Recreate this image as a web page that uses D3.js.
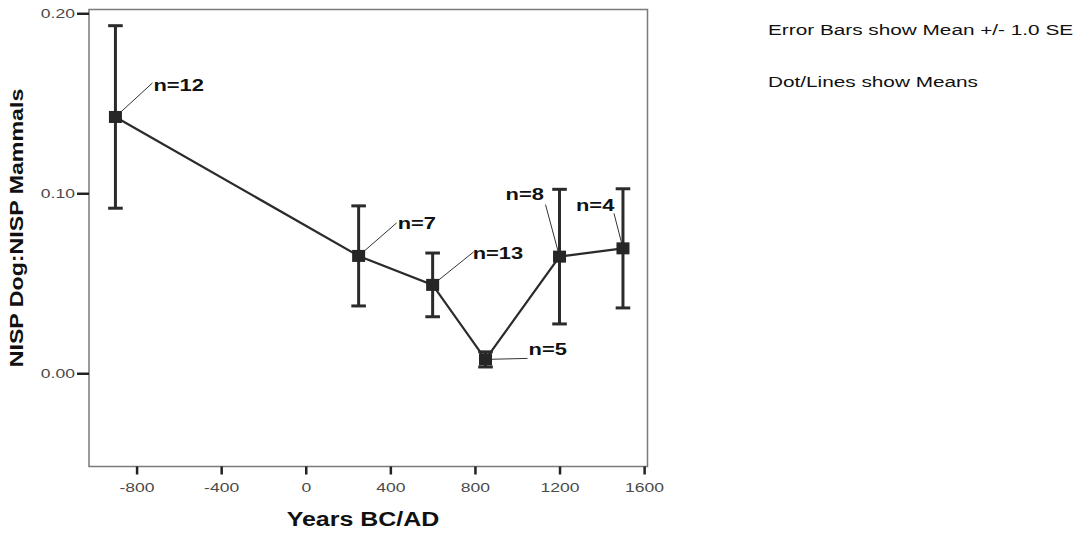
<!DOCTYPE html>
<html>
<head>
<meta charset="utf-8">
<script src="https://cdn.jsdelivr.net/npm/d3@7"></script>
<style>
  body { margin: 0; background: #fff; }
  svg { display: block; }
  text { font-family: "Liberation Sans", Arial, sans-serif; }
</style>
</head>
<body>
<svg id="chart"></svg>
<script>
// chart values
const years = [-900, 250, 600, 850, 1200, 1500];
const means = [0.1424, 0.0652, 0.0491, 0.0077, 0.0648, 0.0694];
const stdErr = [0.0507, 0.0278, 0.0177, 0.0042, 0.0374, 0.0331];
const counts = [12, 7, 13, 5, 8, 4];
const xTicks = [-800, -400, 0, 400, 800, 1200, 1600];
const yTicks = [0, 0.1, 0.2];
const legendLines = ["Error Bars show Mean +/- 1.0 SE", "Dot/Lines show Means"];
const xTitle = "Years BC/AD";
const yTitle = "NISP Dog:NISP Mammals";

const WIDTH = 1089;
const HEIGHT = 537;
const SX = 1.3; // the original picture is stretched sideways

// where each "n=" label sits, relative to its point (text start, text middle, leader end)
const labelLayout = [
  { tx: 38, ty: -32, lx: 37, ly: -34 },
  { tx: 39, ty: -33, lx: 38, ly: -33 },
  { tx: 40, ty: -32, lx: 41, ly: -33 },
  { tx: 43, ty: -10, lx: 42, ly: -1 },
  { tx: -54, ty: -62, lx: -14, ly: -52 },
  { tx: -47, ty: -43, lx: -9, ly: -35 },
];

const svg = d3.select("#chart").attr("width", WIDTH).attr("height", HEIGHT);

const x = d3.scaleLinear().domain([-1025, 1616]).range([89, 647.5]);
const y = d3.scaleLinear().domain([-0.0518, 0.2021]).range([466.5, 9.5]);

const data = years.map((d, i) => ({ year: d, mean: means[i], se: stdErr[i], n: counts[i] }));

// frame
svg.append("rect")
  .attr("x", x.range()[0])
  .attr("y", y.range()[1])
  .attr("width", x.range()[1] - x.range()[0])
  .attr("height", y.range()[0] - y.range()[1])
  .attr("fill", "none")
  .attr("stroke", "#7a7a7a")
  .attr("stroke-width", 1.5);

// y axis
const yAxis = svg.append("g")
  .attr("transform", `translate(${x.range()[0]},0)`)
  .call(d3.axisLeft(y).tickValues(yTicks).tickFormat(d3.format(".2f")).tickSize(12));
yAxis.select(".domain").remove();
yAxis.selectAll("line").attr("stroke", "#222").attr("stroke-width", 2.5);
yAxis.selectAll("text")
  .attr("x", null).attr("dy", null)
  .attr("transform", `translate(-14,4.7) scale(${SX},1)`)
  .attr("fill", "#4a4a4a")
  .style("font-size", "13.5px");

// x axis
const xAxis = svg.append("g")
  .attr("transform", `translate(0,${y.range()[0]})`)
  .call(d3.axisBottom(x).tickValues(xTicks).tickFormat((d) => String(d)).tickSize(8));
xAxis.select(".domain").remove();
xAxis.selectAll("line").attr("stroke", "#222").attr("stroke-width", 2.5);
xAxis.selectAll("text")
  .attr("y", null).attr("dy", null)
  .attr("transform", `translate(0,25) scale(${SX},1)`)
  .attr("fill", "#4a4a4a")
  .style("font-size", "13.5px");

// axis titles
svg.append("text")
  .attr("transform", "translate(363,526) scale(1.25,1)")
  .attr("text-anchor", "middle")
  .style("font-size", "20px")
  .style("font-weight", "bold")
  .attr("fill", "#111")
  .text(xTitle);

svg.append("text")
  .attr("transform", "translate(23,228) rotate(-90) scale(1.22,1)")
  .attr("text-anchor", "middle")
  .style("font-size", "19px")
  .style("font-weight", "bold")
  .attr("fill", "#111")
  .text(yTitle);

// legend notes
svg.append("g")
  .selectAll("text")
  .data(legendLines)
  .enter()
  .append("text")
  .attr("transform", (d, i) => `translate(768,${35 + i * 52}) scale(1.34,1)`)
  .style("font-size", "15.5px")
  .attr("fill", "#111")
  .text((d) => d);

// mean line
svg.append("path")
  .datum(data)
  .attr("d", d3.line().x((d) => x(d.year)).y((d) => y(d.mean)))
  .attr("fill", "none")
  .attr("stroke", "#2b2b2b")
  .attr("stroke-width", 2.2);

// error bars
const bars = svg.append("g")
  .selectAll("g")
  .data(data)
  .enter()
  .append("g")
  .attr("stroke", "#2b2b2b")
  .attr("stroke-width", 3);
bars.append("line")
  .attr("x1", (d) => x(d.year)).attr("x2", (d) => x(d.year))
  .attr("y1", (d) => y(d.mean + d.se)).attr("y2", (d) => y(d.mean - d.se));
bars.append("line")
  .attr("x1", (d) => x(d.year) - 7.3).attr("x2", (d) => x(d.year) + 7.3)
  .attr("y1", (d) => y(d.mean + d.se)).attr("y2", (d) => y(d.mean + d.se));
bars.append("line")
  .attr("x1", (d) => x(d.year) - 7.3).attr("x2", (d) => x(d.year) + 7.3)
  .attr("y1", (d) => y(d.mean - d.se)).attr("y2", (d) => y(d.mean - d.se));

// leader lines and n labels
const labels = svg.append("g")
  .selectAll("g")
  .data(data)
  .enter()
  .append("g");
labels.append("line")
  .attr("x1", (d) => x(d.year))
  .attr("y1", (d) => y(d.mean))
  .attr("x2", (d, i) => x(d.year) + labelLayout[i].lx)
  .attr("y2", (d, i) => y(d.mean) + labelLayout[i].ly)
  .attr("stroke", "#333")
  .attr("stroke-width", 1);
labels.append("text")
  .attr("transform", (d, i) =>
    `translate(${x(d.year) + labelLayout[i].tx},${y(d.mean) + labelLayout[i].ty + 5.8}) scale(1.37,1)`)
  .style("font-size", "16px")
  .style("font-weight", "bold")
  .attr("fill", "#111")
  .text((d) => "n=" + d.n);

// mean markers
svg.append("g")
  .selectAll("rect")
  .data(data)
  .enter()
  .append("rect")
  .attr("x", (d) => x(d.year) - 6.5)
  .attr("y", (d) => y(d.mean) - 6)
  .attr("width", 13)
  .attr("height", 12)
  .attr("fill", "#262626");
</script>
</body>
</html>
